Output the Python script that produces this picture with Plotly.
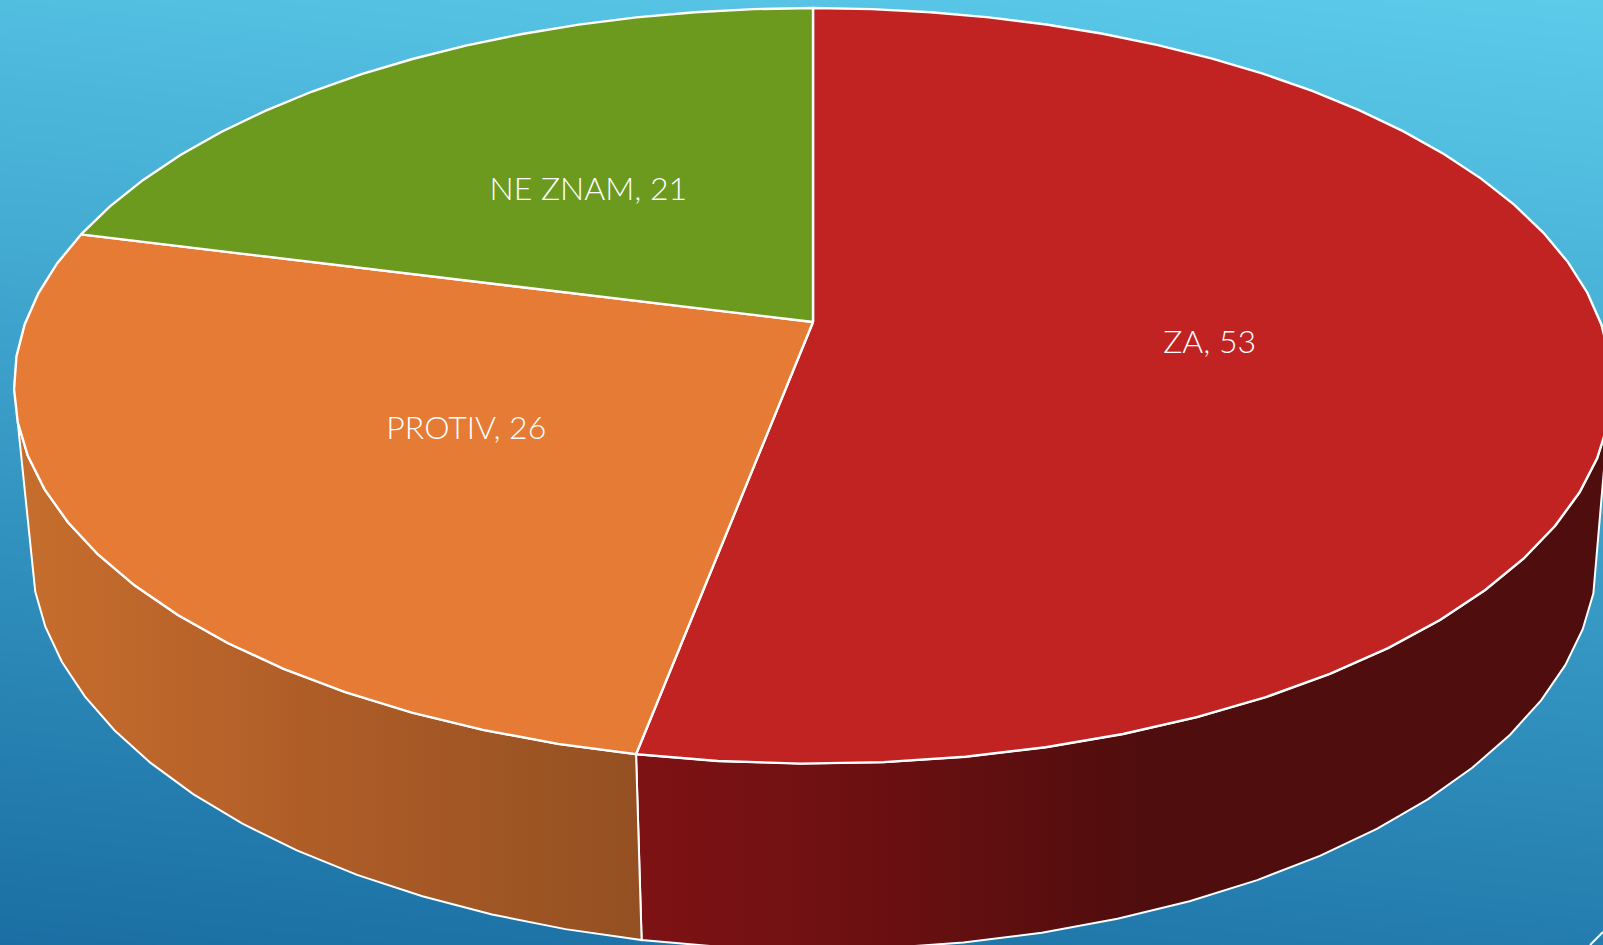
import math
import plotly.graph_objects as go

# ---- data ----
categories = ["ZA", "PROTIV", "NE ZNAM"]
values = [53, 26, 21]
top_colors = ["#c12222", "#e67b35", "#6b9a1e"]
wall_scales = [
    [[0, "#7e1214"], [0.22, "#6e1012"], [0.52, "#500d0d"], [1, "#4f0d0d"]],
    [[0, "#c66e2c"], [0.22, "#bd662b"], [0.5, "#ad5c27"], [1, "#945022"]],
    None,
]
bg_corners = [[0.85, 1.0], [0.0, 0.15]]
bg_scale = [[0, "#1a6ea3"], [0.5, "#3a9ec8"], [1, "#5ccbea"]]

W, H = 1603, 945
CX, CY, A, B, K = 813, 322, 787.5, 367, 0.169
M, DROP = 0.0196, 167
BOTTOM_SHIFT = 1.5
WALL_LIMIT = 75
LABEL_SHIFT = (1.5, 6)


def top(a, r=1.0):
    s, c = r * math.cos(a), r * math.sin(a)
    w = 1 + K * s
    return CX + A * c / w, CY - B * s / w


def bottom(a):
    s, c = math.cos(a), math.sin(a)
    w = 1 + K * s + M
    return CX + BOTTOM_SHIFT + A * c / w, CY + (DROP - B * s) / w


total = sum(values)
spans = []
start = 0.0
for v in values:
    deg = 360.0 * v / total
    spans.append((start, deg))
    start += deg


def vertices(s, d):
    n = round(d / 5)
    return [math.radians(s + d * i / n) for i in range(n + 1)]


fig = go.Figure()
fig.add_trace(go.Heatmap(x=[0, W], y=[0, H], z=bg_corners, zsmooth="best",
                         colorscale=bg_scale, zmin=0, zmax=1,
                         showscale=False, hoverinfo="skip"))

# walls
for (s, d), scale in zip(spans, wall_scales):
    if scale is None:
        continue
    ang = [a for a in vertices(s, d) if abs(math.degrees(a) - 180) <= WALL_LIMIT]
    t = [top(a) for a in ang]
    b = [bottom(a) for a in ang]
    pts = t + b[::-1] + t[:1]
    fig.add_trace(go.Scatter(
        x=[p[0] for p in pts], y=[p[1] for p in pts], mode="lines",
        line=dict(color="white", width=2), fill="toself",
        fillgradient=dict(type="horizontal", colorscale=scale),
        hoverinfo="skip", showlegend=False))

# top faces
for (s, d), col in zip(spans, top_colors):
    rim = [top(a) for a in vertices(s, d)]
    pts = [(CX, CY)] + rim + [(CX, CY)]
    fig.add_trace(go.Scatter(
        x=[p[0] for p in pts], y=[p[1] for p in pts], mode="lines",
        line=dict(color="white", width=2.4), fill="toself", fillcolor=col,
        hoverinfo="skip", showlegend=False))

# labels
lab = [top(math.radians(s + d / 2), 0.5) for s, d in spans]
fig.add_trace(go.Scatter(
    x=[p[0] + LABEL_SHIFT[0] for p in lab], y=[p[1] + LABEL_SHIFT[1] for p in lab],
    mode="text",
    text=[f"{c}, {v}" for c, v in zip(categories, values)],
    textposition="middle center",
    textfont=dict(family="Lato Light, Lato, sans-serif", size=32, color="white"),
    hoverinfo="skip", showlegend=False))

fig.update_layout(
    width=W, height=H, margin=dict(l=0, r=0, t=0, b=0),
    paper_bgcolor="#2a80b0", plot_bgcolor="#2a80b0", showlegend=False,
    xaxis=dict(range=[0, W], visible=False, fixedrange=True),
    yaxis=dict(range=[H, 0], visible=False, fixedrange=True),
    shapes=[dict(type="line", x0=1590, y0=945, x1=1603, y1=932,
                 line=dict(color="white", width=2))],
)
fig.write_html("out.html", config={"displayModeBar": False},
               post_script="document.body.style.margin='0';document.body.style.overflow='hidden';")
